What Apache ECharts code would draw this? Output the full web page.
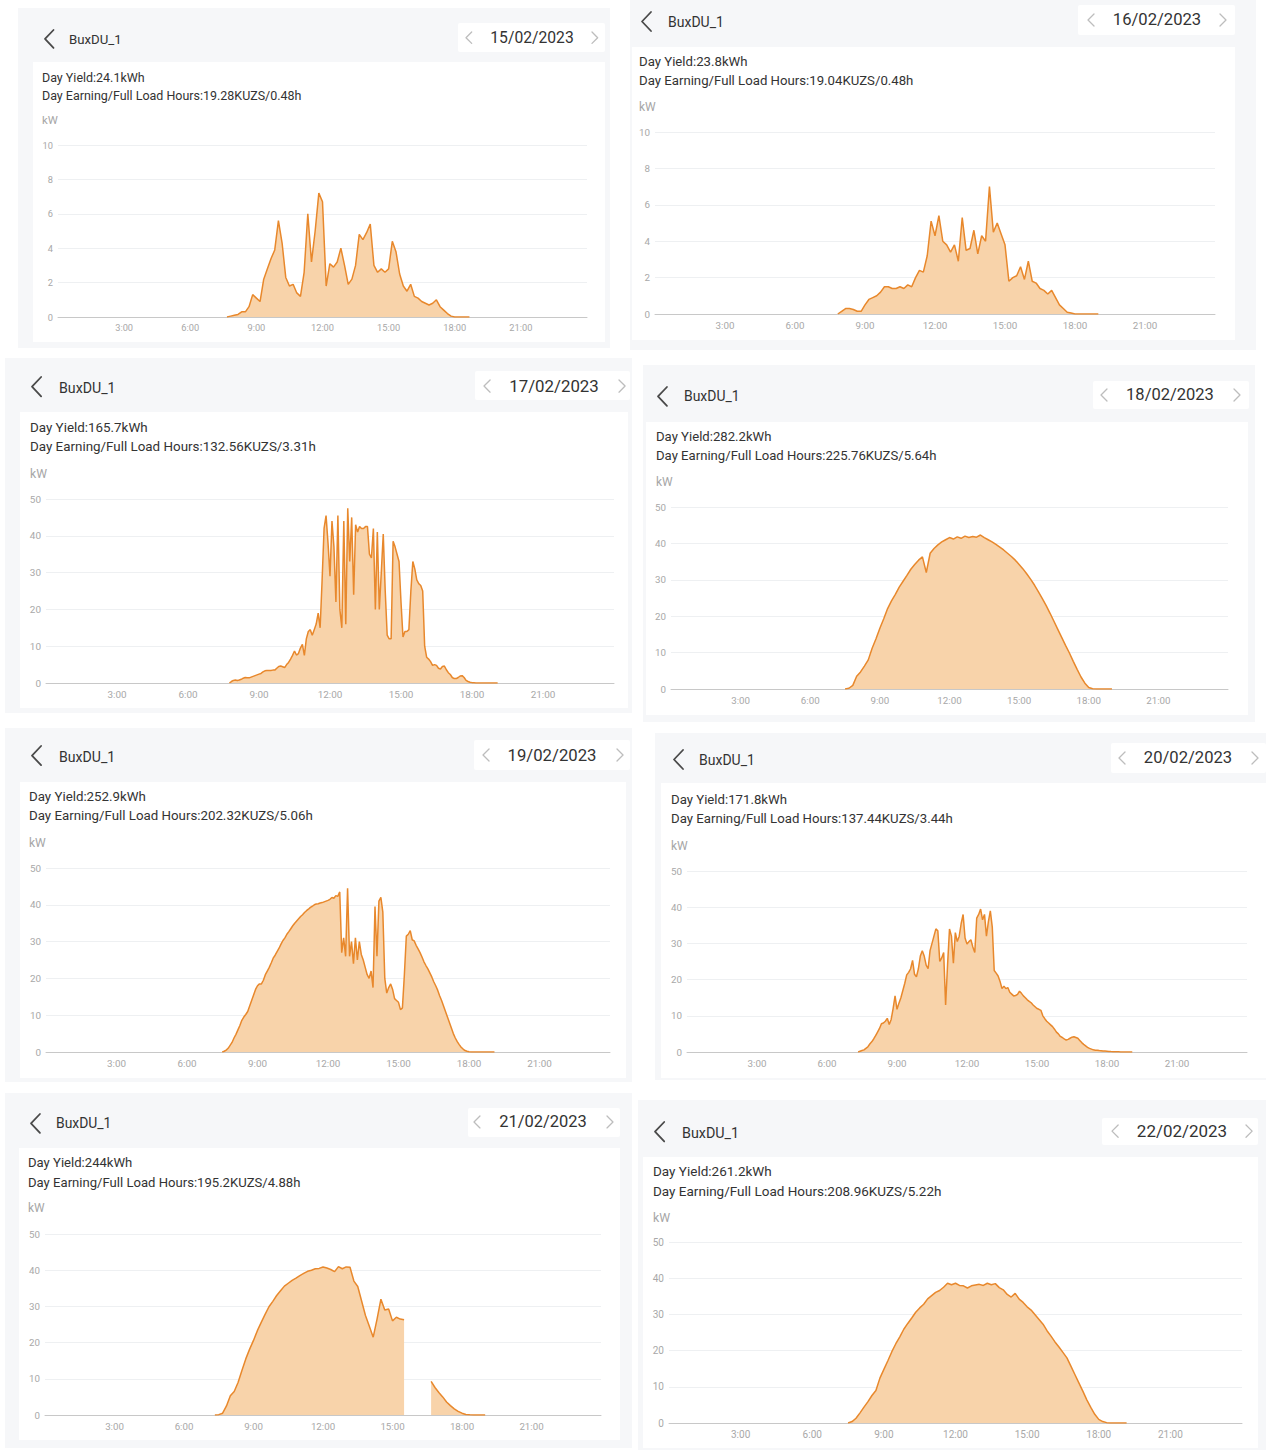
<!DOCTYPE html>
<html>
<head>
<meta charset="utf-8">
<script src="https://cdn.jsdelivr.net/npm/echarts@6/dist/echarts.min.js"></script>
<style>
  body { margin: 0; background: #fff; font-family: Roboto, 'Noto Sans', sans-serif; }
  #page { position: relative; width: 1266px; height: 1450px; overflow: hidden; }
  .panel, .card, .datebox { position: absolute; }
  .panel { background: #f6f7f9; }
  .card { background: #fff; }
  .datebox { background: #fff; border-radius: 2px; }
  .txt { position: absolute; white-space: nowrap; line-height: 1; transform: translateY(-50%); color: #333; }
  .txt.center { transform: translate(-50%, -50%); }
  .icon { position: absolute; }
  #chart { position: absolute; left: 0; top: 0; width: 1266px; height: 1450px; }
</style>
</head>
<body>
<div id="page"><div id="chart"></div></div>
<script>
  // one day per panel
  const deviceName = 'BuxDU_1'
  const dates = ['15/02/2023', '16/02/2023', '17/02/2023', '18/02/2023', '19/02/2023', '20/02/2023', '21/02/2023', '22/02/2023']
  const dayYield = ['24.1', '23.8', '165.7', '282.2', '252.9', '171.8', '244', '261.2']
  const dayEarning = ['19.28', '19.04', '132.56', '225.76', '202.32', '137.44', '195.2', '208.96']
  const fullLoadHours = ['0.48', '0.48', '3.31', '5.64', '5.06', '3.44', '4.88', '5.22']
  const yMax = [10, 10, 50, 50, 50, 50, 50, 50]
  const xTickHours = [3, 6, 9, 12, 15, 18, 21]

  // first sample time and sample step (minutes) of each day
  const startTimes = ['07:40', '07:50', '07:45', '07:30', '07:30', '07:20', '07:20', '07:30']
  const stepMinutes = [10, 10, 5, 10, 5, 5, 10, 10]

  // power in kW
  const kw0215 = [
    0, 0.05, 0.1, 0.15, 0.3, 0.3, 0.6, 1.3, 1.1, 0.9, 2.2, 2.8, 3.4, 3.9,
    5.6, 4.3, 2.3, 1.8, 1.9, 1.4, 1.2, 2.6, 6.0, 3.2, 5.0, 7.2, 6.7, 1.8,
    3.1, 2.9, 3.2, 4.0, 3.0, 1.9, 2.2, 3.0, 4.8, 4.5, 4.9, 5.4, 3.0, 2.6,
    2.8, 2.6, 2.8, 4.4, 3.8, 2.5, 1.8, 1.5, 1.9, 1.2, 1.1, 0.9, 0.8, 0.7,
    0.8, 1.0, 0.6, 0.4, 0.2, 0.05, 0, 0, 0, 0, 0
  ]
  const kw0216 = [
    0, 0.15, 0.3, 0.3, 0.25, 0.15, 0.15, 0.5, 0.8, 0.9, 1.0, 1.2, 1.5, 1.5,
    1.4, 1.4, 1.5, 1.4, 1.6, 1.5, 2.0, 2.4, 2.3, 3.2, 5.1, 4.3, 5.4, 4.0,
    3.8, 3.4, 3.8, 2.9, 5.3, 3.5, 3.6, 4.6, 3.3, 4.3, 4.0, 7.0, 4.5, 5.0,
    4.4, 3.8, 1.8, 2.0, 2.1, 2.6, 1.9, 2.9, 1.8, 1.7, 1.4, 1.3, 1.1, 1.3,
    0.9, 0.5, 0.3, 0.1, 0.05, 0, 0, 0, 0, 0, 0, 0
  ]
  const kw0217 = [
    0, 0.4, 0.7, 0.8, 0.7, 0.8, 1.0, 1.3, 1.5, 1.4, 1.4, 1.6, 1.8, 2.0,
    2.2, 2.4, 2.6, 3.0, 3.3, 3.4, 3.4, 3.4, 3.5, 3.5, 4.0, 4.5, 4.6, 4.4,
    4.2, 5.0, 5.6, 6.5, 7.5, 8.7, 7.6, 8.0, 9.5, 10.5, 7.5, 12.0, 14.0, 14.5,
    13.0, 14.5, 16.0, 19.0, 15.0, 28, 42, 45.5, 38, 29, 44, 37, 22, 45.5,
    20, 15, 44, 16, 47.5, 33, 45, 24, 43, 41, 42.5, 42, 42, 42.5, 42.5, 35,
    34, 42, 20, 41, 20, 30, 40.5, 25, 13, 12, 12, 38.5, 37, 35, 33, 22,
    12.5, 14, 14, 14.5, 25, 33, 31, 28, 27, 26.5, 25, 10, 7.0, 6.5, 5.8, 4.8,
    5.0, 4.8, 4.0, 3.8, 4.5, 4.6, 3.6, 2.8, 2.3, 1.5, 1.2, 1.2, 1.5, 1.9,
    2.0, 1.5, 0.7, 0.4, 0.2, 0.1, 0.05, 0, 0, 0, 0, 0, 0, 0, 0, 0, 0, 0, 0
  ]
  const kw0218 = [
    0, 0.2, 1.0, 3.5, 4.7, 6.3, 8.0, 11.2, 13.8, 16.7, 19.3, 22.1, 24.2, 26.0,
    28.0, 29.6, 31.2, 32.9, 34.2, 35.4, 36.3, 32.0, 37.3, 38.6, 39.6, 40.4, 41.0, 41.6,
    41.2, 41.8, 41.4, 42.0, 41.6, 41.9, 41.7, 42.3, 41.6, 41.0, 40.4, 39.7, 39.0, 38.2,
    37.3, 36.4, 35.4, 34.2, 33.0, 31.6, 30.1, 28.5, 26.7, 24.8, 22.9, 20.8, 18.6, 16.4,
    14.2, 12.0, 9.9, 7.6, 5.4, 3.3, 1.6, 0.4, 0.05, 0, 0, 0, 0, 0
  ]
  const kw0219 = [
    0, 0.2, 0.5, 1.0, 1.8, 2.6, 3.8, 4.8, 6.0, 7.2, 8.6, 9.5, 10.2, 11.0,
    12.5, 14.0, 15.5, 17.0, 18.0, 18.5, 18.5, 19.5, 21, 22, 23, 24.2, 25.5, 26.3,
    27.3, 28.2, 29.3, 30.3, 31.0, 32.0, 32.7, 33.5, 34.3, 35.0, 35.6, 36.2, 36.8, 37.3,
    37.9, 38.4, 38.8, 39.3, 39.6, 40.0, 40.2, 40.3, 40.5, 40.6, 40.8, 41.0, 41.2, 41.5,
    42.0, 41.8, 42.5, 42.3, 43.5, 27, 31, 26, 44.5, 26, 30, 24, 31, 25,
    30, 26.5, 25, 23, 21, 20, 22, 17.5, 39.5, 26, 41, 42, 38, 20,
    16, 17.5, 18.5, 17, 14.5, 14, 13.5, 11.5, 12, 21, 31.5, 32, 33, 30.5,
    30.2, 29, 28, 27, 25.8, 24.5, 23.5, 22.6, 21.5, 20.4, 19.1, 18, 16.8, 15.3,
    14, 12.5, 11, 9.5, 8, 6.5, 5, 3.8, 2.8, 2.0, 1.3, 0.8, 0.4, 0.2,
    0.05, 0, 0, 0, 0, 0, 0, 0, 0, 0, 0, 0, 0, 0
  ]
  const kw0220 = [
    0, 0.2, 0.4, 0.6, 1.0, 1.4, 2.2, 2.8, 3.6, 4.5, 5.5, 6.5, 7.8, 8.0,
    8.5, 9.3, 7.6, 9.0, 12.0, 15.5, 11.8, 13.5, 15.0, 17.0, 19.0, 21.3, 22.0, 23.0,
    25.3, 21.5, 20.8, 23.0, 26.5, 28.0, 26.5, 24.0, 23.0, 28.0, 30.0, 32.0, 34.0, 33.5,
    25.0, 26.0, 27.5, 13.0, 24.0, 34.0, 32.0, 24.5, 33.0, 30.5, 32.0, 35.5, 38.0, 31.5,
    29.8, 30.5, 31.0, 29.0, 27.5, 37.0, 38.0, 39.5, 36.5, 38.0, 32.0, 36.0, 39.0, 34.5,
    22.5, 21.8, 21.0, 19.5, 17.5, 18.2, 17.5, 17.8, 16.5, 16.0, 15.5, 15.6, 15.9, 16.8,
    16.2, 15.5, 15.0, 14.4, 14.0, 13.6, 13.0, 12.5, 12.0, 11.8, 11.5, 10.0, 9.2, 8.5,
    8.0, 7.5, 7.0, 6.3, 5.5, 5.0, 4.3, 4.0, 3.6, 3.3, 3.5, 3.8, 4.1, 4.2,
    4.0, 3.8, 3.2, 2.6, 2.1, 1.7, 1.3, 1.0, 0.8, 0.6, 0.5, 0.5, 0.4, 0.35,
    0.3, 0.25, 0.2, 0.15, 0.12, 0.1, 0.08, 0.05, 0.05, 0.03, 0.02, 0, 0, 0,
    0, 0
  ]
  const kw0221 = [
    0, 0.1, 0.5, 2.5, 5.3, 6.5, 9.0, 12.3, 15.5, 18.2, 20.6, 23.3, 25.6, 27.8,
    29.9, 31.4, 33.0, 34.3, 35.6, 36.4, 37.2, 37.8, 38.5, 39.1, 39.7, 40.0, 40.4, 40.5,
    40.9, 40.6, 40.2, 39.6, 41.0, 40.4, 40.9, 40.8, 37.0, 35.5, 31.5, 27.5, 24.5, 21.5,
    26.5, 32.0, 29.0, 29.3, 26.0, 27.0, 26.5, 26.3, null, null, null, null, null, null,
    9.3, 7.6, 6.2, 5.0, 3.6, 2.6, 1.7, 1.0, 0.5, 0.15, 0.05, 0, 0, 0, 0
  ]
  const kw0222 = [
    0, 0.4, 1.3, 2.8, 4.4, 5.9, 7.6, 9.0, 12.4, 14.8, 17.2, 19.7, 21.9, 23.8,
    25.9, 27.5, 29.0, 30.6, 31.8, 32.8, 34.3, 35.2, 36.1, 36.6, 37.5, 38.6, 38.2, 38.6,
    38.0, 37.9, 37.3, 37.9, 38.1, 38.3, 38.0, 38.6, 38.2, 38.5, 37.4, 36.8, 35.5, 34.8,
    35.8, 34.2, 33.3, 32.1, 31.2, 29.9, 28.6, 27.3, 25.5, 24.0, 22.4, 21.0, 19.5, 18.0,
    15.7, 13.4, 11.1, 8.8, 6.4, 4.3, 2.4, 1.0, 0.4, 0.1, 0, 0, 0, 0, 0
  ]
  const power = [kw0215, kw0216, kw0217, kw0218, kw0219, kw0220, kw0221, kw0222]

  // screen placement of the eight phone screenshots
  const layout = [
    { bg: [18, 8, 592, 340], card: [33, 62, 572, 280], dateBox: [458, 23, 147, 29], headY: 39, arrowX: 49, nameX: 69, dateX: 532, prevX: 469, nextX: 595, textX: 42, yieldY: 78, earnY: 96, kwY: 121, grid: [58, 587, 145, 317], s: 0.945 },
    { bg: [630, 0, 626, 350], card: [632, 47, 603, 293], dateBox: [1078, 5, 157, 30], headY: 21, arrowX: 646, nameX: 668, dateX: 1157, prevX: 1091, nextX: 1223, textX: 639, yieldY: 62, earnY: 81, kwY: 107, grid: [655, 1215, 132, 314], s: 1.0 },
    { bg: [5, 358, 627, 355], card: [20, 412, 608, 296], dateBox: [475, 371, 155, 29], headY: 387, arrowX: 37, nameX: 59, dateX: 554, prevX: 487, nextX: 622, textX: 30, yieldY: 428, earnY: 447, kwY: 474, grid: [46, 614, 499, 683], s: 1.014 },
    { bg: [643, 365, 612, 357], card: [646, 422, 602, 293], dateBox: [1093, 381, 156, 28], headY: 396, arrowX: 662, nameX: 684, dateX: 1170, prevX: 1104, nextX: 1237, textX: 656, yieldY: 437, earnY: 456, kwY: 483, grid: [671, 1228, 507, 689], s: 0.995 },
    { bg: [5, 728, 627, 354], card: [20, 782, 606, 296], dateBox: [474, 740, 156, 30], headY: 756, arrowX: 37, nameX: 59, dateX: 552, prevX: 486, nextX: 620, textX: 29, yieldY: 797, earnY: 816, kwY: 843, grid: [46, 610, 868, 1052], s: 1.007 },
    { bg: [655, 733, 611, 347], card: [661, 783, 605, 295], dateBox: [1111, 743, 155, 30], headY: 759, arrowX: 678, nameX: 699, dateX: 1188, prevX: 1122, nextX: 1255, textX: 671, yieldY: 800, earnY: 819, kwY: 846, grid: [687, 1247, 871, 1052], s: 1.0 },
    { bg: [5, 1093, 627, 355], card: [19, 1148, 601, 292], dateBox: [468, 1108, 152, 29], headY: 1123, arrowX: 35, nameX: 56, dateX: 543, prevX: 477, nextX: 610, textX: 28, yieldY: 1163, earnY: 1183, kwY: 1209, grid: [45, 601, 1234, 1415], s: 0.993 },
    { bg: [638, 1100, 628, 350], card: [643, 1157, 615, 291], dateBox: [1102, 1118, 156, 27], headY: 1132, arrowX: 660, nameX: 682, dateX: 1182, prevX: 1115, nextX: 1249, textX: 653, yieldY: 1172, earnY: 1192, kwY: 1218, grid: [669, 1242, 1242, 1423], s: 1.023 }
  ]

  const page = document.getElementById('page')
  const chartEl = document.getElementById('chart')

  const addBox = (cls, r) => {
    const d = document.createElement('div')
    d.className = cls
    d.style.left = r[0] + 'px'
    d.style.top = r[1] + 'px'
    d.style.width = r[2] + 'px'
    d.style.height = r[3] + 'px'
    page.insertBefore(d, chartEl)
  }

  const addText = (str, x, y, size, color, centered) => {
    const d = document.createElement('div')
    d.className = centered ? 'txt center' : 'txt'
    d.textContent = str
    d.style.left = x + 'px'
    d.style.top = y + 'px'
    d.style.fontSize = size + 'px'
    if (color) d.style.color = color
    page.appendChild(d)
  }

  // thin chevron, dir -1 points left, 1 points right
  const addChevron = (x, y, w, h, color, sw, dir) => {
    const pad = 3
    const W = w + pad * 2
    const H = h + pad * 2
    const x1 = dir < 0 ? pad + w : pad
    const x2 = dir < 0 ? pad : pad + w
    const d = document.createElement('div')
    d.className = 'icon'
    d.style.left = (x - W / 2) + 'px'
    d.style.top = (y - H / 2) + 'px'
    d.innerHTML = `<svg width="${W}" height="${H}"><polyline points="${x1},${pad} ${x2},${pad + h / 2} ${x1},${pad + h}" fill="none" stroke="${color}" stroke-width="${sw}" stroke-linecap="round" stroke-linejoin="round"/></svg>`
    page.appendChild(d)
  }

  layout.forEach((p, i) => {
    const s = p.s
    addBox('panel', p.bg)
    addBox('card', p.card)
    addBox('datebox', p.dateBox)
    addChevron(p.arrowX, p.headY, 9 * s, 19 * s, '#4a4a4a', 1.8, -1)
    addText(deviceName, p.nameX, p.headY + 1, 14 * s, '#333')
    addChevron(p.prevX, p.headY - 1, 6 * s, 12 * s, '#bdbdbd', 1.3, -1)
    addChevron(p.nextX, p.headY - 1, 6 * s, 12 * s, '#bdbdbd', 1.3, 1)
    addText(dates[i], p.dateX, p.headY - 1, 16.6 * s, '#333', true)
    addText('Day Yield:' + dayYield[i] + 'kWh', p.textX, p.yieldY, 13.2 * s, '#333')
    addText('Day Earning/Full Load Hours:' + dayEarning[i] + 'KUZS/' + fullLoadHours[i] + 'h', p.textX, p.earnY, 13.2 * s, '#333')
    addText('kW', p.textX, p.kwY, 12 * s, '#a6a6a6')
  })

  const toHours = (t) => {
    const [h, m] = t.split(':').map(Number)
    return h + m / 60
  }

  const grids = []
  const xAxes = []
  const yAxes = []
  const series = []

  layout.forEach((p, i) => {
    const [left, right, top, bottom] = p.grid
    const s = p.s
    grids.push({
      left: left,
      top: top,
      width: right - left,
      height: bottom - top,
      containLabel: false,
      outerBoundsMode: 'none'
    })
    xAxes.push({
      type: 'value',
      gridIndex: i,
      min: 0,
      max: 24,
      interval: 3,
      axisLine: { lineStyle: { color: '#c8c8c8', width: 1 } },
      axisTick: { show: false },
      splitLine: { show: false },
      axisLabel: {
        color: '#a8a8a8',
        fontSize: 9.8 * s,
        fontFamily: 'Roboto',
        margin: 6,
        formatter: (v) => (xTickHours.includes(v) ? v + ':00' : '')
      }
    })
    yAxes.push({
      type: 'value',
      gridIndex: i,
      min: 0,
      max: yMax[i],
      interval: yMax[i] / 5,
      axisLine: { show: false },
      axisTick: { show: false },
      splitLine: { lineStyle: { color: '#eef0f2', width: 1 } },
      axisLabel: {
        color: '#a8a8a8',
        fontSize: 9.8 * s,
        fontFamily: 'Roboto',
        margin: 5
      }
    })
    const t0 = toHours(startTimes[i])
    const step = stepMinutes[i] / 60
    series.push({
      type: 'line',
      xAxisIndex: i,
      yAxisIndex: i,
      data: power[i].map((v, k) => [t0 + k * step, v]),
      symbol: 'none',
      connectNulls: false,
      lineStyle: { color: '#e8882c', width: 1.5 },
      areaStyle: { color: '#f8d3aa', opacity: 1 },
      z: 3
    })
  })

  const chart = echarts.init(chartEl, null, { renderer: 'svg' })
  chart.setOption({
    animation: false,
    backgroundColor: 'transparent',
    grid: grids,
    xAxis: xAxes,
    yAxis: yAxes,
    series: series
  })
</script>
</body>
</html>
